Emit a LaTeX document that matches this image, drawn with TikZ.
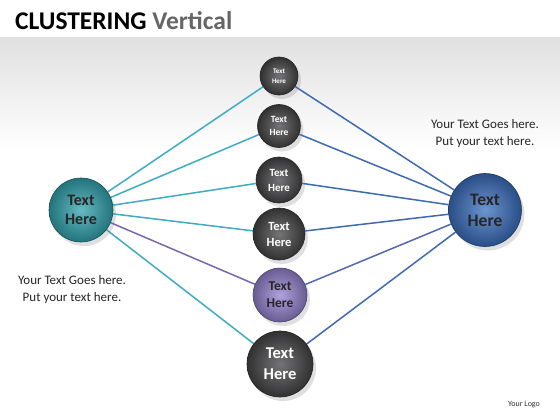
\documentclass[tikz,border=0pt]{standalone}
\usepackage{fontspec}
\setmainfont{Carlito}
\usetikzlibrary{positioning,shadows,backgrounds}

\definecolor{tealball}{RGB}{50,165,176}
\definecolor{blueball}{RGB}{60,112,192}
\definecolor{grayball}{RGB}{70,70,72}
\definecolor{purpleball}{RGB}{150,132,210}
\definecolor{tealline}{RGB}{62,172,194}
\definecolor{blueline}{RGB}{62,106,176}
\definecolor{purpleline}{RGB}{122,102,172}

\tikzset{
  ball/.style={circle, inner sep=0pt, align=center, font=\bfseries,
    inner color=#1!75!white, outer color=#1!70!black, draw=#1!50!black, line width=0.6pt,
    drop shadow={shadow xshift=3pt, shadow yshift=-4pt, opacity=0.25}},
  note/.style={align=center, font=\fontsize{13}{17}\selectfont, text=black!85},
  link/.style={line width=1.5pt}
}

\begin{document}
\begin{tikzpicture}[x=1pt, y=-1pt]
\useasboundingbox (0,0) rectangle (560,420);

% title
\node[anchor=base west, inner sep=0pt, font=\fontsize{25.5}{30}\selectfont\bfseries] (title) at (15,30)
  {CLUSTERING \textcolor{black!60}{Vertical}};

% balls
\node[ball=tealball, minimum size=64pt, font=\fontsize{16}{19}\selectfont\bfseries, text=black!85] (left) at (81,210) {Text\\Here};
\node[ball=blueball, minimum size=73pt, font=\fontsize{17.5}{21}\selectfont\bfseries, text=black!85] (right) at (485,210) {Text\\Here};
\node[ball=grayball, minimum size=38pt, font=\fontsize{7}{10}\selectfont\bfseries, text=white] (m1) at (279,76) {Text\\Here};
\node[ball=grayball, minimum size=43pt, font=\fontsize{9.5}{13}\selectfont\bfseries, text=white] (m2) at (279,126) {Text\\Here};
\node[ball=grayball, minimum size=46pt, font=\fontsize{11}{15}\selectfont\bfseries, text=white] (m3) at (279,180) {Text\\Here};
\node[ball=grayball, minimum size=52pt, font=\fontsize{12.5}{16}\selectfont\bfseries, text=white] (m4) at (279,234) {Text\\Here};
\node[ball=purpleball, minimum size=54pt, font=\fontsize{13.5}{17}\selectfont\bfseries, text=black!85] (m5) at (280,295) {Text\\Here};
\node[ball=grayball, minimum size=66pt, font=\fontsize{16.5}{21}\selectfont\bfseries, text=white] (m6) at (280,364) {Text\\Here};

% notes
\node[note, above=22pt of right] (rightnote) {Your Text Goes here.\\Put your text here.};
\node[note, below=30pt of left, xshift=-9pt] (leftnote) {Your Text Goes here.\\Put your text here.};
\node[font=\fontsize{8}{10}\selectfont, text=black!80] (logo) at (524,405) {Your Logo};

\begin{scope}[on background layer]
  \fill[white] (0,0) rectangle (560,420);
  \shade[top color=black!12, bottom color=white] (0,38) rectangle (560,150);
  \foreach \m in {m1,m2,m3,m4,m6}
    \draw[link, tealline] (left) -- (\m);
  \draw[link, purpleline] (left) -- (m5);
  \foreach \m in {m1,m2,m3,m4,m6}
    \draw[link, blueline] (\m) -- (right);
  \draw[link, blueline!70!purpleline] (m5) -- (right);
\end{scope}
\end{tikzpicture}
\end{document}
